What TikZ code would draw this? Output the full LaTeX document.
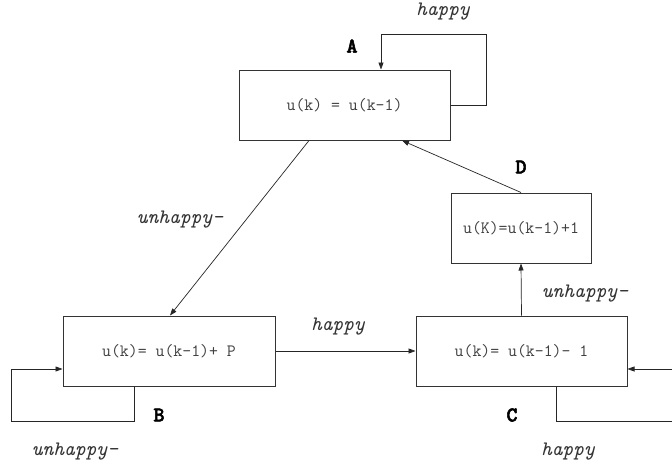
\documentclass[tikz,border=0pt]{standalone}
\usepackage{fontspec}
\newfontfamily\cour{Latin Modern Mono}
\newfontfamily\courbold{lmmonolt10-bold}[Extension=.otf, FakeBold=2.5]
\usetikzlibrary{arrows.meta}
\tikzset{
  state/.style={draw=black!80, line width=1pt, rectangle, minimum height=70pt,
    inner sep=0pt, font=\cour\fontsize{17.3}{19}\selectfont, text=black!75},
  edge/.style={draw=black!85, line width=0.7pt, -{Triangle[length=7pt,width=5pt]}},
  cond/.style={font=\cour\itshape\fontsize{20.5}{22}\selectfont, text=black!80},
  tag/.style={font=\courbold\fontsize{21}{23}\selectfont, text=black}
}
\begin{document}
\begin{tikzpicture}[x=1pt,y=-1pt]
\useasboundingbox (0,0) rectangle (672,466);
\fill[white] (0,0) rectangle (672,466);

% the four states
\node[state, minimum width=211pt] (A) at (344.5,105) {u(k) = u(k-1)};
\node[state, minimum width=212pt] (B) at (169,351) {u(k)= u(k-1)+ P};
\node[state, minimum width=211pt] (C) at (521.5,351) {u(k)= u(k-1)- 1};
\node[state, minimum width=140pt] (D) at (521,228) {u(K)=u(k-1)+1};

% state letters
\node[tag] (la) at (352,46) {A};
\node[tag] (lb) at (159,415) {B};
\node[tag] (lc) at (512,415) {C};
\node[tag] (ld) at (521,167) {D};

% transitions
\draw[edge] ([xshift=-35.5pt]A.south) -- ([xshift=1pt]B.north);
\draw[edge] (B.east) -- (C.west);
\draw[edge] (C.north) -- (D.south);
\draw[edge] (D.north) -- ([xshift=57.5pt]A.south);

% self loops
\draw[edge] (A.east) -- ++(36,0) -- ++(0,-71) -| ([xshift=36.5pt]A.north);
\draw[edge] ([xshift=-35pt]B.south) -- ++(0,35) -- ++(-123,0) |- ([yshift=-18pt]B.west);
\draw[edge] ([xshift=34.5pt]C.south) -- ++(0,35) -- ++(124,0) |- ([yshift=-18pt]C.east);

% transition conditions
\node[cond] (ca) at (443,12) {happy};
\node[cond] (cab) at (180,220) {unhappy-};
\node[cond] (cbc) at (338,327) {happy};
\node[cond] (ccd) at (585,294) {unhappy-};
\node[cond] (cb) at (75,452) {unhappy-};
\node[cond] (cc) at (568,452) {happy};
\end{tikzpicture}
\end{document}
